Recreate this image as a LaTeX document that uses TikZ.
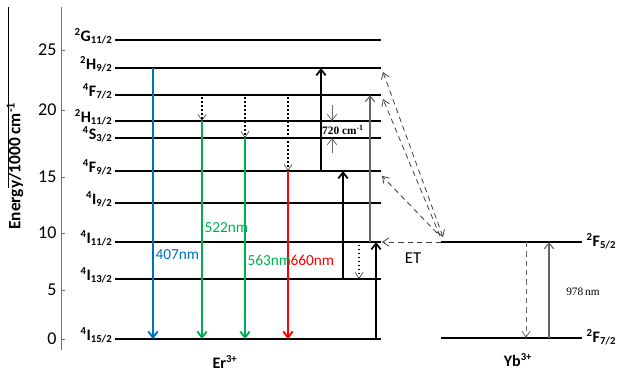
\documentclass[tikz,border=0pt]{standalone}
\usepackage{fontspec}
\setmainfont{Carlito}
\newfontfamily\tnr{Liberation Serif}
\usetikzlibrary{arrows.meta}
\definecolor{eblue}{RGB}{0,112,192}
\definecolor{egreen}{RGB}{0,176,80}
\definecolor{ered}{RGB}{255,0,0}
\tikzset{
  lvl/.style={line width=2pt},
  lab/.style={font=\bfseries\fontsize{12}{13}\selectfont, anchor=base east, inner sep=1pt},
  ticklab/.style={font=\fontsize{13.5}{14}\selectfont, anchor=east, inner sep=1pt},
  emit/.style={line width=1.4pt, -{Straight Barb[length=4.5pt,width=7pt]}},
  pump/.style={line width=1.3pt, -{Straight Barb[length=4.5pt,width=7pt]}},
  thinarr/.style={draw=black!60, line width=0.8pt, -{Straight Barb[length=4.5pt,width=7pt]}},
  dotarr/.style={line width=1.3pt, dash pattern=on 1.3pt off 1.7pt, -{Straight Barb[length=4.5pt,width=6pt,line width=0.5pt,color=black!70]}},
  etarr/.style={draw=black!75, line width=0.6pt, dash pattern=on 4pt off 3pt, -{Straight Barb[length=4.5pt,width=6pt]}},
  wl/.style={font=\fontsize{11.5}{12}\selectfont, anchor=west, inner sep=1pt},
}
\newcommand\ErLevel[5]{%
  \coordinate (#1L) at (115,#2); \coordinate (#1R) at (381,#2);
  \draw[lvl] (#1L) -- (#1R);
  \node[lab] (#1n) at (114,#2+1) {\textsuperscript{#3}#4\textsubscript{#5}};}
\begin{document}
\begin{tikzpicture}[x=0.75pt,y=-0.75pt]
\useasboundingbox (0,0) rectangle (624,375);
% axis
\coordinate (axT) at (61,7); \coordinate (axB) at (61,350);
\draw[black!55, line width=0.7pt] (axT) -- (axB);
\foreach \v/\yy in {0/339,5/290,10/233,15/177,20/110,25/50} {
  \coordinate (t\v) at (61,\yy);
  \draw[black!55, line width=0.7pt] (t\v) -- ++(4,0);
  \node[ticklab] (tl\v) at (58,\yy) {\v};
}
\coordinate (sl1) at (8,7); \coordinate (sl2) at (8,188);
\draw[line width=0.5pt] (sl1) -- (sl2);
\node[rotate=90, font=\bfseries\fontsize{13}{14}\selectfont] (ylab) at (15,166) {Energy/1000 cm\textsuperscript{-1}};
% Er levels
\ErLevel{G112}{40}{2}{G}{11/2}
\ErLevel{H92}{68}{2}{H}{9/2}
\ErLevel{F72}{95}{4}{F}{7/2}
\ErLevel{H112}{121}{2}{H}{11/2}
\ErLevel{S32}{138}{4}{S}{3/2}
\ErLevel{F92}{171}{4}{F}{9/2}
\ErLevel{I92}{203}{4}{I}{9/2}
\ErLevel{I112}{242}{4}{I}{11/2}
\ErLevel{I132}{279}{4}{I}{13/2}
\ErLevel{I152}{339}{4}{I}{15/2}
% Yb levels
\coordinate (YaL) at (441,242); \coordinate (YaR) at (582,242);
\coordinate (YbL) at (441,338); \coordinate (YbR) at (582,338);
\draw[lvl] (YaL) -- (YaR);
\draw[lvl] (YbL) -- (YbR);
\node[lab, anchor=base west] (Yan) at (585,246) {\textsuperscript{2}F\textsubscript{5/2}};
\node[lab, anchor=base west] (Ybn) at (585,342) {\textsuperscript{2}F\textsubscript{7/2}};
% x positions
\coordinate (xb) at (153,0);
\coordinate (xg1) at (202,0);
\coordinate (xg2) at (245,0);
\coordinate (xr) at (288,0);
\coordinate (xp3) at (321,0);
\coordinate (xs) at (332,0);
\coordinate (xp2) at (343,0);
\coordinate (xd) at (359,0);
\coordinate (xt) at (370,0);
\coordinate (xp1) at (376,0);
% emissions
\draw[emit, eblue] (xb |- H92L) -- (xb |- I152L);
\draw[dotarr] ([yshift=-1.5pt]xg1 |- F72L) -- (xg1 |- H112L);
\draw[emit, egreen] (xg1 |- H112L) -- (xg1 |- I152L);
\draw[dotarr] ([yshift=-1.5pt]xg2 |- F72L) -- (xg2 |- S32L);
\draw[emit, egreen] (xg2 |- S32L) -- (xg2 |- I152L);
\draw[dotarr] ([yshift=-1.5pt]xr |- F72L) -- (xr |- F92L);
\draw[emit, ered] (xr |- F92L) -- (xr |- I152L);
\node[wl, text=eblue] (w407) at (154,255) {407nm};
\node[wl, text=egreen] (w522) at (203,228) {522nm};
\node[wl, text=egreen] (w563) at (246,260) {563nm};
\node[wl, text=ered] (w660) at (289,260) {660nm};
% pumps
\draw[pump] (xp1 |- I152L) -- (xp1 |- I112L);
\draw[pump] (xp2 |- I132L) -- (xp2 |- F92L);
\draw[pump] (xp3 |- F92L) -- (xp3 |- H92L);
\draw[thinarr] (xt |- I112L) -- (xt |- F72L);
\draw[dotarr] ([yshift=-2pt]xd |- I112L) -- (xd |- I132L);
% 720 cm-1
\coordinate (s1) at (332,105); \coordinate (s2) at (332,153);
\draw[thinarr, line width=0.6pt] (s1) -- (xs |- H112L);
\draw[thinarr, line width=0.6pt] (s2) -- (xs |- S32L);
\node[font=\tnr\bfseries\fontsize{8.5}{9}\selectfont, inner sep=0.5pt] (n720) at (343,130) {720 cm\textsuperscript{-1}};
% energy transfer
\coordinate (e1) at (441,242);
\coordinate (e2) at (437,233);
\coordinate (e3) at (440,236);
\coordinate (e4) at (443,237);
\coordinate (h1) at (382,242);
\coordinate (h2) at (382,176);
\coordinate (h3) at (383,99);
\coordinate (h4) at (383,72);
\draw[etarr] (e1) -- (h1);
\draw[etarr] (e2) -- (h2);
\draw[etarr] (e3) -- (h3);
\draw[etarr, {Straight Barb[length=4.5pt,width=6pt]}-{Straight Barb[length=4.5pt,width=6pt]}] (e4) -- (h4);
\node[font=\fontsize{12.5}{13}\selectfont] (ET) at (413,258) {ET};
% Yb transitions
\coordinate (ya) at (526,242); \coordinate (yb) at (549,242);
\draw[etarr, draw=black!60] (ya) -- (ya |- YbL);
\draw[thinarr] (yb |- YbL) -- (yb);
\node[font=\tnr\fontsize{8.5}{9}\selectfont] (n978) at (583,292) {978\,nm};
% ion labels
\node[font=\bfseries\fontsize{12}{13}\selectfont] (er) at (225,362) {Er\textsuperscript{3+}};
\node[font=\bfseries\fontsize{12}{13}\selectfont] (yb3) at (518,360) {Yb\textsuperscript{3+}};
\end{tikzpicture}
\end{document}
